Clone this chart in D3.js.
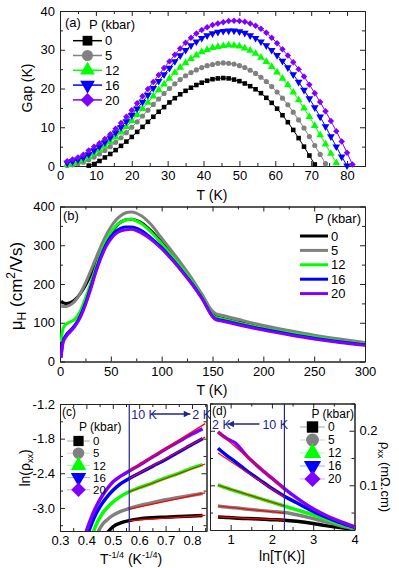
<!DOCTYPE html>
<html>
<head>
<meta charset="utf-8">
<script src="https://d3js.org/d3.v7.min.js"></script>
<style>
body { margin: 0; background: #fff; }
svg text { font-family: Arial, "Liberation Sans", sans-serif; fill: #000; }
.tick text { font-size: 13px; font-family: Arial, "Liberation Sans", sans-serif; }
.tick line, .domain { stroke: #222; }
</style>
</head>
<body>
<svg id="chart" width="399" height="568"></svg>
<script>
// pressures and colours shared by all four panels
var pressures = ["0", "5", "12", "16", "20"];
var colors = ["#000000", "#808080", "#00ff00", "#0000ff", "#8000ff"];

// (a) gap vs T
var gapT = [2,3.5,5,6.5,8,9.5,11,12.5,14,15.5,17,18.5,20,21.5,23,24.5,26,27.5,29,30.5,32,33.5,35,36.5,38,39.5,41,42.5,44,45.5,47,48.5,50,51.5,53,54.5,56,57.5,59,60.5,62,63.5,65,66.5,68,69.5,71,72.5,74,75.5,77,78.5,80,81.5];
var gap0 = [null,null,null,null,0.1,0.5,1.3,2.2,3.1,4.1,5.2,6.3,7.5,8.8,10.1,11.4,12.7,14.0,15.2,16.4,17.5,18.5,19.4,20.2,20.9,21.5,22.0,22.4,22.6,22.7,22.6,22.3,21.9,21.3,20.6,19.8,18.8,17.6,16.3,14.8,13.1,11.3,9.3,7.2,5.0,2.7,0.4];
var gap5 = [0.1,0.3,0.6,1.0,1.6,2.3,3.1,4.0,5.0,6.1,7.3,8.6,10.0,11.4,12.9,14.4,15.9,17.3,18.7,20.0,21.2,22.3,23.3,24.1,24.8,25.4,25.9,26.2,26.5,26.6,26.5,26.3,25.9,25.4,24.7,23.9,22.9,21.8,20.5,19.1,17.5,15.8,13.9,11.9,9.8,7.6,5.3,3.0,0.6];
var gap12 = [0.3,0.7,1.1,1.6,2.3,3.2,4.1,5.1,6.2,7.4,8.7,10.1,11.6,13.2,14.8,16.4,18.0,19.6,21.1,22.6,24.1,25.4,26.6,27.7,28.6,29.4,30.0,30.5,30.8,31.0,31.2,31.1,30.9,30.4,29.8,29.0,28.0,26.9,25.6,24.2,22.6,20.9,19.0,17.0,14.9,12.7,10.4,8.0,5.6,3.2,0.8];
var gap16 = [0.8,1.2,1.6,2.2,3.0,4.0,5.0,6.1,7.3,8.6,10.0,11.5,13.1,14.8,16.5,18.3,20.1,21.9,23.6,25.3,27.0,28.5,29.9,31.1,32.1,33.0,33.7,34.2,34.6,34.8,34.9,34.9,34.7,34.3,33.7,33.0,32.1,31.1,29.9,28.6,27.1,25.4,23.6,21.7,19.6,17.4,15.1,12.7,10.2,7.6,5.0,2.4,0.1];
var gap20 = [1.2,1.7,2.2,2.9,4.0,5.0,5.9,7.0,8.2,9.6,11.1,12.7,14.4,16.2,18.0,19.9,21.7,23.5,25.3,27.0,28.7,30.3,31.8,33.1,34.2,35.1,35.8,36.4,36.8,37.1,37.4,37.5,37.4,37.2,36.8,36.2,35.4,34.4,33.1,31.7,30.1,28.5,26.8,25.0,23.1,21.0,18.8,16.5,14.1,11.6,9.0,6.3,3.4,0.4];

// (b) Hall mobility vs T
var muT = [1,3,6,10,15,20,25,30,35,40,45,50,55,60,65,70,75,80,90,100,110,120,130,140,150,153,160,175,200,225,250,275,300];
var mu0 = [156,152,150,152,160,175,196,222,252,282,309,331,348,360,366,367,364,358,336,307,276,243,207,168,124,116,111,102,87,75,64,54,46];
var mu5 = [143,142,142,146,157,176,202,233,265,296,324,347,365,377,384,386,383,376,352,318,285,250,213,172,130,124,119,109,93,80,68,58,49];
var mu12 = [50,85,96,102,110,130,163,200,240,278,310,333,350,360,366,367,363,356,333,304,273,240,205,166,120,114,110,100,86,74,63,53,45];
var mu16 = [10,52,68,80,95,118,150,190,232,270,300,322,336,344,347,347,344,338,318,294,265,234,200,162,117,110,106,97,83,71,60,51,43];
var mu20 = [10,48,64,76,92,114,146,185,228,265,295,316,330,337,340,341,338,332,314,291,263,232,199,161,116,108,104,95,81,69,58,49,42];

// (c) ln(rho) vs T^-1/4
var vrhX = [0.38,0.40,0.42,0.44,0.46,0.48,0.50,0.53,0.5623,0.60,0.65,0.70,0.75,0.80,0.84];
var vrh0 = [null,null,null,null,-3.60,-3.43,-3.33,-3.26,-3.22,-3.19,-3.17,-3.16,-3.15,-3.14,-3.13];
var vrh5 = [null,null,-3.75,-3.46,-3.29,-3.20,-3.13,-3.06,-3.01,-2.96,-2.91,-2.86,-2.82,-2.78,-2.75];
var vrh12 = [null,-3.80,-3.50,-3.26,-3.10,-2.99,-2.90,-2.80,-2.72,-2.65,-2.57,-2.48,-2.40,-2.31,-2.25];
var vrh16 = [-3.85,-3.53,-3.27,-3.07,-2.92,-2.80,-2.70,-2.58,-2.49,-2.40,-2.28,-2.16,-2.03,-1.90,-1.80];
var vrh20 = [-3.70,-3.40,-3.15,-2.95,-2.79,-2.66,-2.55,-2.45,-2.36,-2.26,-2.12,-1.98,-1.85,-1.72,-1.63];
var vrhFitX = [0.5623, 0.85];
var vrhFit = [[-3.22,-3.13],[-3.02,-2.74],[-2.72,-2.24],[-2.49,-1.77],[-2.36,-1.54]];

// (d) rho vs ln T
var logX = [0.693,0.9,1.1,1.4,1.7,2.0,2.3,2.6,3.0,3.3,3.6,4.0];
var rho0 = [0.042,0.041,0.040,0.039,0.038,0.037,0.036,0.034,0.030,0.026,0.023,0.019];
var rho5 = [0.062,0.060,0.059,0.056,0.054,0.052,0.050,0.046,0.039,0.033,0.027,0.020];
var rho12 = [0.101,0.095,0.090,0.083,0.076,0.069,0.062,0.055,0.046,0.038,0.030,0.022];
var rho16 = [0.168,0.155,0.144,0.126,0.110,0.094,0.080,0.068,0.052,0.042,0.033,0.023];
var rho20 = [0.198,0.186,0.178,0.153,0.132,0.113,0.094,0.077,0.057,0.045,0.035,0.024];
var logFitX = [0.693, 2.303];
var logFit = [[0.042,0.036],[0.062,0.049],[0.100,0.062],[0.159,0.078],[0.198,0.093]];

var markT = [10, 2]; // the 10 K and 2 K marks

var svg = d3.select("#chart");
var navy = "#1f2590";

var shapes = [d3.symbolSquare, d3.symbolCircle, d3.symbolTriangle, d3.symbolTriangle, d3.symbolSquare];
var rots = [0, 0, 0, 180, 45];

function frame(g, x, y, o) {
    var w = x.range()[1], h = y.range()[0];
    function ax(gen, vals, len, fmt, tr) {
        g.append("g").attr("transform", tr).attr("color", "#222")
            .call(gen.tickValues(vals).tickSizeInner(-len).tickSizeOuter(0)
                .tickPadding(5).tickFormat(fmt || function() { return ""; }));
    }
    ax(d3.axisBottom(x), o.xt, 5, o.xf, "translate(0," + h + ")");
    ax(d3.axisBottom(x), o.xm, 3, null, "translate(0," + h + ")");
    ax(d3.axisTop(x), o.xt, 5, null, "translate(0,0)");
    ax(d3.axisTop(x), o.xm, 3, null, "translate(0,0)");
    ax(d3.axisLeft(y), o.yt, 5, o.right ? null : o.yf, "translate(0,0)");
    ax(d3.axisLeft(y), o.ym, 3, null, "translate(0,0)");
    ax(d3.axisRight(y), o.yt, 5, o.right ? o.yf : null, "translate(" + w + ",0)");
    ax(d3.axisRight(y), o.ym, 3, null, "translate(" + w + ",0)");
}

function clip(g, id, w, h) {
    svg.append("defs").append("clipPath").attr("id", id)
        .append("rect").attr("width", w).attr("height", h);
    return g.append("g").attr("clip-path", "url(#" + id + ")");
}

function legend(g, x0, x1, y0, dy, size, lineOp, lineW, withMarks, fs) {
    pressures.forEach(function(p, i) {
        var yy = y0 + dy * i;
        g.append("line").attr("x1", x0).attr("x2", x1).attr("y1", yy).attr("y2", yy)
            .attr("stroke", colors[i]).attr("stroke-width", lineW).attr("stroke-opacity", lineOp);
        if (withMarks) {
            g.append("path").attr("d", d3.symbol(shapes[i], size)())
                .attr("transform", "translate(" + ((x0 + x1) / 2) + "," + yy + ") rotate(" + rots[i] + ")")
                .attr("fill", colors[i]);
        }
        g.append("text").attr("x", x1 + 3).attr("y", yy + fs * 0.36).attr("font-size", fs).text(p);
    });
}

svg.append("defs").append("marker").attr("id", "ah")
    .attr("viewBox", "0 0 10 10").attr("refX", 10).attr("refY", 5)
    .attr("markerWidth", 7).attr("markerHeight", 5).attr("orient", "auto")
    .append("path").attr("d", "M0,0L10,5L0,10z").attr("fill", navy);

// ---------- panel (a)
var ga = svg.append("g").attr("transform", "translate(60,11)");
var xa = d3.scaleLinear().domain([0, 85]).range([0, 305]);
var ya = d3.scaleLinear().domain([0, 40]).range([155, 0]);
frame(ga, xa, ya, {
    xt: [0,10,20,30,40,50,60,70,80], xm: [5,15,25,35,45,55,65,75,85], xf: d3.format("d"),
    yt: [0,10,20,30,40], ym: [5,15,25,35], yf: d3.format("d")
});
[gap0, gap5, gap12, gap16, gap20].forEach(function(vals, i) {
    var pts = gapT.map(function(t, j) { return [t, vals[j]]; })
        .filter(function(p) { return p[1] != null; });
    ga.append("path").datum(pts)
        .attr("d", d3.line().x(function(p) { return xa(p[0]); }).y(function(p) { return ya(p[1]); }))
        .attr("fill", "none").attr("stroke", colors[i]).attr("stroke-width", 1);
    ga.append("g").selectAll("path").data(pts).enter().append("path")
        .attr("d", d3.symbol(shapes[i], i == 2 || i == 3 ? 26 : 21)())
        .attr("transform", function(p) { return "translate(" + xa(p[0]) + "," + ya(p[1]) + ") rotate(" + rots[i] + ")"; })
        .attr("fill", colors[i]);
});
ga.append("text").attr("x", 5).attr("y", 15.5).attr("font-size", 13).text("(a)");
ga.append("text").attr("x", 29).attr("y", 18).attr("font-size", 13).text("P (kbar)");
legend(ga, 13, 42, 29.7, 14.8, 95, 1, 1.5, true, 13);
svg.append("text").attr("x", 212).attr("y", 200).attr("text-anchor", "middle").attr("font-size", 14).text("T (K)");
svg.append("text").attr("transform", "translate(32,88) rotate(-90)").attr("text-anchor", "middle")
    .attr("font-size", 14).text("Gap (K)");

// ---------- panel (b)
var gb = svg.append("g").attr("transform", "translate(60,206.5)");
var xb = d3.scaleLinear().domain([0, 300]).range([0, 305]);
var yb = d3.scaleLinear().domain([0, 400]).range([155, 0]);
frame(gb, xb, yb, {
    xt: [0,50,100,150,200,250,300], xm: [25,75,125,175,225,275], xf: d3.format("d"),
    yt: [0,100,200,300,400], ym: [50,150,250,350], yf: d3.format("d")
});
var gbc = clip(gb, "clipb", 305, 155);
[mu0, mu5, mu12, mu16, mu20].forEach(function(vals, i) {
    gbc.append("path").datum(vals)
        .attr("d", d3.line().curve(d3.curveMonotoneX)
            .x(function(v, j) { return xb(muT[j]); }).y(function(v) { return yb(v); }))
        .attr("fill", "none").attr("stroke", colors[i]).attr("stroke-width", 3)
        .attr("stroke-linejoin", "round");
});
gb.append("text").attr("x", 3).attr("y", 13.5).attr("font-size", 13).text("(b)");
gb.append("text").attr("x", 255).attr("y", 16).attr("font-size", 13).text("P (kbar)");
legend(gb, 240, 268, 29.5, 14.4, 0, 1, 3, false, 13);
svg.append("text").attr("x", 212).attr("y", 395).attr("text-anchor", "middle").attr("font-size", 14).text("T (K)");
var mt = svg.append("text").attr("transform", "translate(22,286) rotate(-90)").attr("text-anchor", "middle")
    .attr("font-size", 17);
mt.append("tspan").text("\u03bc");
mt.append("tspan").attr("font-size", 12).attr("dy", 4).text("H");
mt.append("tspan").attr("dy", -4).text(" (cm");
mt.append("tspan").attr("font-size", 12).attr("dy", -7).text("2");
mt.append("tspan").attr("dy", 7).text("/Vs)");

// ---------- panel (c)
var gc = svg.append("g").attr("transform", "translate(60,404)");
var xc = d3.scaleLinear().domain([0.3, 0.855]).range([0, 146.5]);
var yc = d3.scaleLinear().domain([-3.4, -1.2]).range([127, 0]);
frame(gc, xc, yc, {
    xt: [0.3,0.4,0.5,0.6,0.7,0.8], xm: [0.35,0.45,0.55,0.65,0.75,0.85],
    xf: function(d) { return d.toFixed(1); },
    yt: [-3.0,-2.4,-1.8,-1.2], ym: [-3.3,-2.7,-2.1,-1.5],
    yf: function(d) { return d.toFixed(1); }
});
var gcc = clip(gc, "clipc", 146.5, 127);
[vrh0, vrh5, vrh12, vrh16, vrh20].forEach(function(vals, i) {
    gcc.append("path").datum(vals)
        .attr("d", d3.line().curve(d3.curveMonotoneX).defined(function(v) { return v != null; })
            .x(function(v, j) { return xc(vrhX[j]); }).y(function(v) { return yc(v); }))
        .attr("fill", "none").attr("stroke", colors[i]).attr("stroke-width", 3.5);
});
vrhFit.forEach(function(f) {
    gcc.append("line").attr("x1", xc(vrhFitX[0])).attr("x2", xc(vrhFitX[1]))
        .attr("y1", yc(f[0])).attr("y2", yc(f[1])).attr("stroke", "#ff0000").attr("stroke-width", 1.2);
});
var xv10 = xc(Math.pow(markT[0], -0.25));
gc.append("line").attr("x1", xv10).attr("x2", xv10).attr("y1", 0).attr("y2", 127)
    .attr("stroke", navy).attr("stroke-width", 1.2);
gc.append("text").attr("x", xv10 + 2).attr("y", 14.5).attr("font-size", 12.5).style("fill", navy).text(markT[0] + " K");
gc.append("line").attr("x1", xv10 + 22).attr("x2", xv10 + 61).attr("y1", 10).attr("y2", 10)
    .attr("stroke", navy).attr("stroke-width", 1.3).attr("marker-end", "url(#ah)");
gc.append("text").attr("x", xv10 + 63).attr("y", 14.5).attr("font-size", 12.5).style("fill", navy).text(markT[1] + " K");
gc.append("text").attr("x", 2).attr("y", 12).attr("font-size", 12).text("(c)");
gc.append("text").attr("x", 19).attr("y", 27).attr("font-size", 12).text("P (kbar)");
legend(gc, 7, 30, 37, 12.2, 105, 0.35, 1, true, 11.5);
svg.append("text").attr("transform", "translate(30,468) rotate(-90)").attr("text-anchor", "middle")
    .attr("font-size", 14)
    .call(function(t) {
        t.append("tspan").text("ln(\u03c1");
        t.append("tspan").attr("font-size", 9).attr("dy", 3).text("xx");
        t.append("tspan").attr("dy", -3).text(")");
    });
svg.append("text").attr("x", 131).attr("y", 564).attr("text-anchor", "middle").attr("font-size", 14)
    .call(function(t) {
        t.append("tspan").text("T");
        t.append("tspan").attr("font-size", 9).attr("dy", -6).text("-1/4");
        t.append("tspan").attr("dy", 6).text(" (K");
        t.append("tspan").attr("font-size", 9).attr("dy", -6).text("-1/4");
        t.append("tspan").attr("dy", 6).text(")");
    });

// ---------- panel (d)
var gd = svg.append("g").attr("transform", "translate(210,403.5)");
var xd = d3.scaleLinear().domain([0.5, 4]).range([0, 144.5]);
var yd = d3.scaleLinear().domain([0.018, 0.25]).range([126.5, 0]);
frame(gd, xd, yd, {
    xt: [1,2,3,4], xm: [0.5,1.5,2.5,3.5], xf: d3.format("d"),
    yt: [0.1,0.2], ym: [0.05,0.15,0.25], yf: function(d) { return d.toFixed(1); }, right: true
});
var gdc = clip(gd, "clipd", 144.5, 126.5);
[rho0, rho5, rho12, rho16, rho20].forEach(function(vals, i) {
    gdc.append("path").datum(vals)
        .attr("d", d3.line().curve(d3.curveMonotoneX)
            .x(function(v, j) { return xd(logX[j]); }).y(function(v) { return yd(v); }))
        .attr("fill", "none").attr("stroke", colors[i]).attr("stroke-width", 3.5);
});
logFit.forEach(function(f) {
    gdc.append("line").attr("x1", xd(logFitX[0])).attr("x2", xd(logFitX[1]))
        .attr("y1", yd(f[0])).attr("y2", yd(f[1])).attr("stroke", "#ff0000").attr("stroke-width", 1.2);
});
var xl10 = xd(Math.log(markT[0]));
gd.append("line").attr("x1", xl10).attr("x2", xl10).attr("y1", 0).attr("y2", 126.5)
    .attr("stroke", navy).attr("stroke-width", 1.2);
gd.append("text").attr("x", 2).attr("y", 25).attr("font-size", 12.5).style("fill", navy).text(markT[1] + " K");
gd.append("line").attr("x1", xl10 - 25).attr("x2", xl10 - 57).attr("y1", 20.5).attr("y2", 20.5)
    .attr("stroke", navy).attr("stroke-width", 1.3).attr("marker-end", "url(#ah)");
gd.append("text").attr("x", xl10 - 22).attr("y", 25).attr("font-size", 12.5).style("fill", navy).text(markT[0] + " K");
gd.append("text").attr("x", 2).attr("y", 11).attr("font-size", 12).text("(d)");
gd.append("text").attr("x", 101.5).attr("y", 14).attr("font-size", 12).text("P (kbar)");
legend(gd, 90, 115, 23.5, 13, 130, 0.35, 1, true, 12);
svg.append("text").attr("x", 282).attr("y", 561).attr("text-anchor", "middle").attr("font-size", 14).text("ln[T(K)]");
svg.append("text").attr("transform", "translate(381,477) rotate(90)").attr("text-anchor", "middle")
    .attr("font-size", 13)
    .call(function(t) {
        t.append("tspan").text("\u03c1");
        t.append("tspan").attr("font-size", 9).attr("dy", 3).text("xx");
        t.append("tspan").attr("dy", -3).text(" (m\u03a9.cm)");
    });
</script>
</body>
</html>
